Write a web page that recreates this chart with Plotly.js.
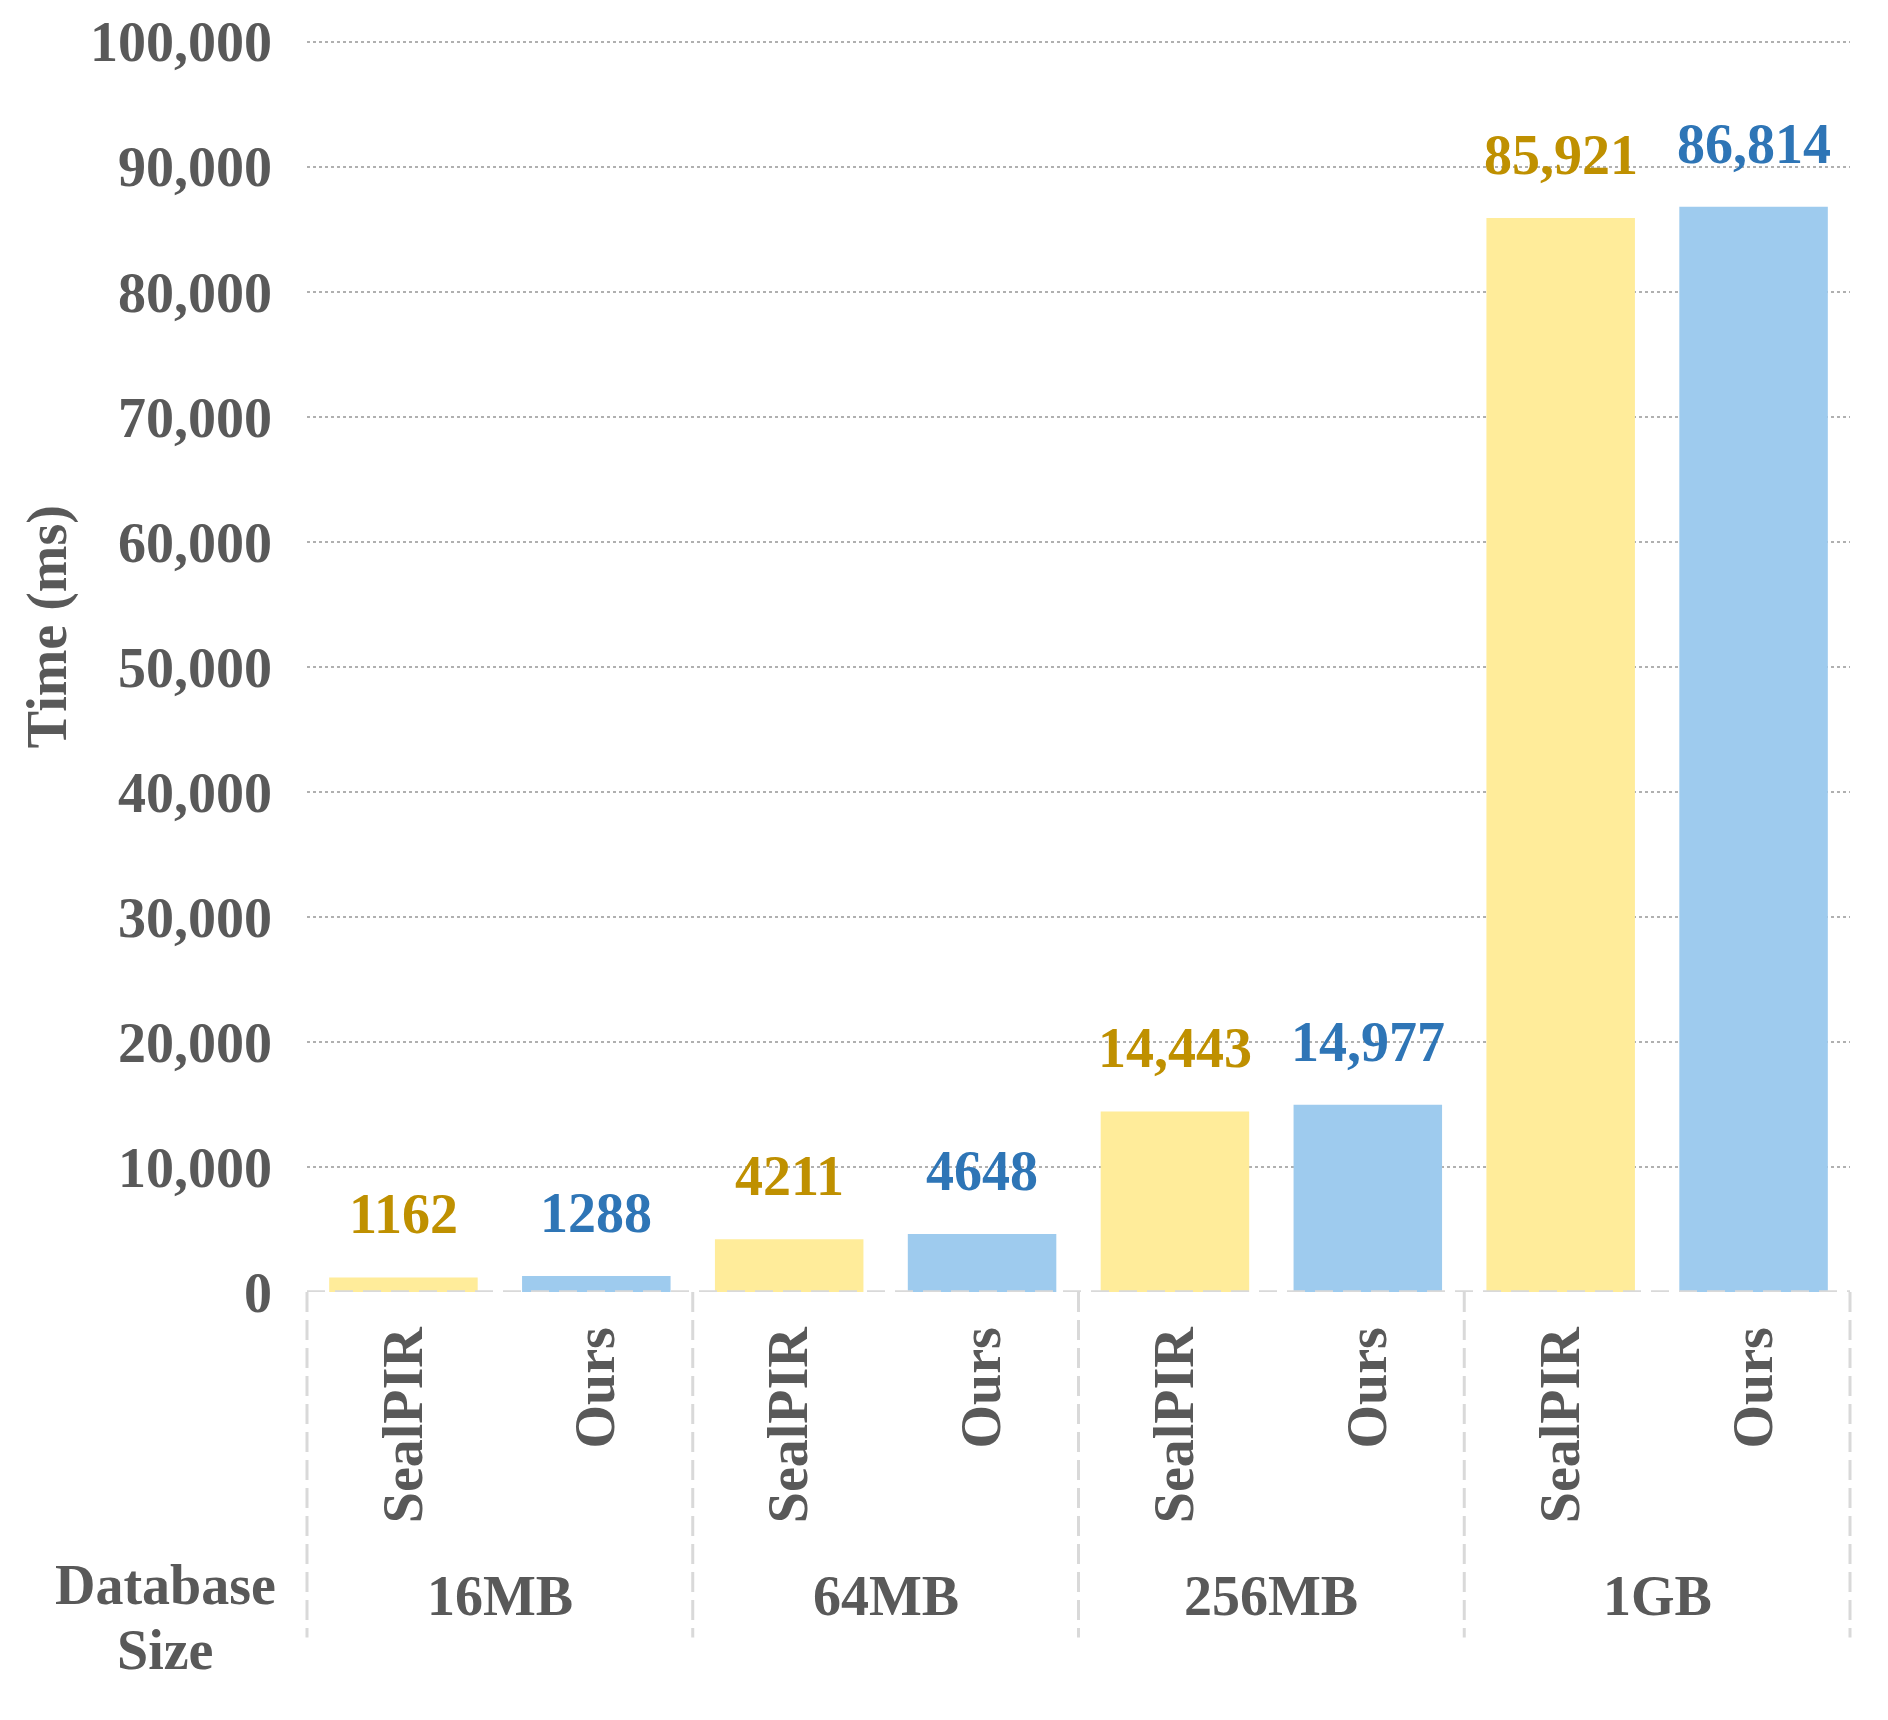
<!DOCTYPE html>
<html>
<head>
<meta charset="utf-8">
<script src="https://cdn.plot.ly/plotly-3.0.1.min.js"></script>
<style>html,body{margin:0;padding:0;background:#fff;}#chart{width:1888px;height:1720px;}</style>
</head>
<body>
<div id="chart"></div>
<script>
// ---- data ----
const groups = ['16MB', '64MB', '256MB', '1GB'];
const seriesNames = ['SealPIR', 'Ours'];
const sealpirValues = [1162, 4211, 14443, 85921];
const oursValues = [1288, 4648, 14977, 86814];
const yTickVals = [0, 10000, 20000, 30000, 40000, 50000, 60000, 70000, 80000, 90000, 100000];
const yTitle = 'Time (ms)';
const xTitleLines = ['Database', 'Size'];

// ---- styling ----
const FONT = 'Liberation Serif, Times New Roman, serif';
const FS = 56;
const GRAY = '#595959';
const barColors = ['#FFEC9A', '#9ECBEE'];
const labelColors = ['#BF9000', '#2E75B6'];
const seriesValues = [sealpirValues, oursValues];
const nS = seriesNames.length;

function fmt(v) { return v >= 10000 ? v.toLocaleString('en-US') : String(v); }

const traces = [];
const annotations = [];
seriesValues.forEach((vals, s) => {
  const xs = vals.map((_, g) => g * nS + s);
  traces.push({
    type: 'bar', x: xs, y: vals, width: 0.77,
    marker: { color: barColors[s], line: { width: 0 } },
    hoverinfo: 'skip', showlegend: false
  });
  vals.forEach((v, g) => {
    annotations.push({
      xref: 'x', yref: 'y', x: g * nS + s, y: v, text: fmt(v),
      showarrow: false, yanchor: 'bottom', yshift: 30,
      font: { family: FONT, size: FS, color: labelColors[s], weight: 'bold' }
    });
  });
});

const tickvals = [], ticktext = [];
groups.forEach((g, gi) => seriesNames.forEach((n, si) => { tickvals.push(gi * nS + si); ticktext.push(n); }));

groups.forEach((g, gi) => {
  annotations.push({
    xref: 'x', yref: 'paper', x: gi * nS + (nS - 1) / 2, y: -0.243, yanchor: 'middle',
    text: g, showarrow: false,
    font: { family: FONT, size: FS, color: GRAY, weight: 'bold' }
  });
});

const titleY = [-0.234, -0.286];
xTitleLines.forEach((t, i) => {
  annotations.push({
    xref: 'paper', yref: 'paper', x: -0.092, y: titleY[i], xanchor: 'center', yanchor: 'middle',
    text: t, showarrow: false,
    font: { family: FONT, size: FS, color: GRAY, weight: 'bold' }
  });
});

annotations.push({
  xref: 'paper', yref: 'paper', x: -0.1685, y: 0.531, xanchor: 'center', yanchor: 'middle',
  text: yTitle, textangle: -90, showarrow: false,
  font: { family: FONT, size: FS, color: GRAY, weight: 'bold' }
});

const shapes = [];
shapes.push({
  type: 'line', xref: 'paper', yref: 'y', x0: 0, x1: 1, y0: 0, y1: 0, layer: 'above',
  line: { color: '#D9D9D9', width: 3.5, dash: '18px,10px' }
});
for (let k = 0; k <= groups.length; k++) {
  shapes.push({
    type: 'line', xref: 'x domain', yref: 'paper', x0: k / groups.length, x1: k / groups.length,
    y0: 0, y1: -0.276, layer: 'above',
    line: { color: '#D9D9D9', width: 3, dash: '20px,8px' }
  });
}

const layout = {
  width: 1888, height: 1720,
  margin: { l: 307, r: 38, t: 40, b: 428 },
  paper_bgcolor: '#fff', plot_bgcolor: '#fff',
  barmode: 'overlay',
  font: { family: FONT, size: FS, color: GRAY },
  xaxis: {
    range: [-0.5, groups.length * nS - 0.5],
    tickvals: tickvals, ticktext: ticktext, tickangle: -90,
    tickfont: { family: FONT, size: FS, color: GRAY, weight: 'bold' },
    showgrid: false, zeroline: false, showline: false, ticks: '',
    ticklabelstandoff: 23
  },
  yaxis: {
    range: [0, 100150], tickvals: yTickVals, tickformat: ',d',
    tickfont: { family: FONT, size: FS, color: GRAY, weight: 'bold' },
    showgrid: true, gridcolor: '#B0B0B0', gridwidth: 2, griddash: 'dot',
    zeroline: true, zerolinecolor: '#ffffff', zerolinewidth: 3,
    showline: false, ticks: '', ticklabelstandoff: 34
  },
  annotations: annotations,
  shapes: shapes,
  hovermode: false
};

Plotly.newPlot('chart', traces, layout, { staticPlot: true, displayModeBar: false });
</script>
</body>
</html>
